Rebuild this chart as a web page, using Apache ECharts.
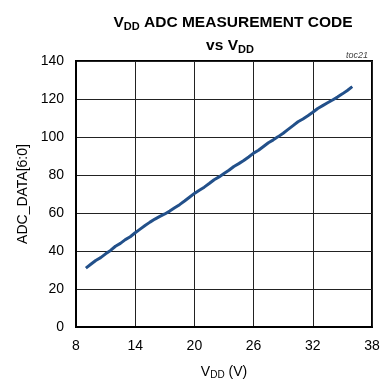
<!DOCTYPE html>
<html>
<head>
<meta charset="UTF-8">
<title>VDD ADC measurement code</title>
<script src="https://cdn.jsdelivr.net/npm/echarts@6/dist/echarts.min.js"></script>
<style>
	html, body { margin: 0; padding: 0; background: #fff; }
	#chart { width: 384px; height: 385px; }
</style>
</head>
<body>
<div id="chart"></div>
<script type="text/javascript">
	// VDD (V) and ADC code
	var vdd = [9, 9.5, 10, 10.5, 11, 11.5, 12, 12.5, 13, 13.5, 14, 14.5, 15, 15.5, 16, 16.5, 17, 17.5, 18, 18.5,
		19, 19.5, 20, 20.5, 21, 21.5, 22, 22.5, 23, 23.5, 24, 24.5, 25, 25.5, 26, 26.5, 27, 27.5, 28, 28.5,
		29, 29.5, 30, 30.5, 31, 31.5, 32, 32.5, 33, 33.5, 34, 34.5, 35, 35.5, 36];
	var code = [31, 33, 35, 36.5, 38.5, 40.3, 42.5, 44, 46, 47.5, 49.6, 51.5, 53.4, 55.2, 56.8, 58.2, 59.5, 61, 62.7, 64.4,
		66.3, 68.3, 70.3, 72, 73.6, 75.5, 77.5, 79, 80.8, 82.5, 84.5, 86, 87.6, 89.5, 91.5, 93, 95, 97, 98.5, 100.2,
		102, 104, 106, 108, 109.5, 111.2, 113, 115, 116.5, 118, 119.5, 121, 122.7, 124.5, 126.5];
	var xTicks = [8, 14, 20, 26, 32, 38];
	var yTicks = [0, 20, 40, 60, 80, 100, 120, 140];

	var font = '"Liberation Sans", Arial, sans-serif';
	var points = vdd.map(function (v, i) { return [v, code[i]]; });

	var titleRich = {
		b: { fontFamily: font, fontWeight: 'bold', fontSize: 15.5, color: '#000', lineHeight: 18 },
		bs: { fontFamily: font, fontWeight: 'bold', fontSize: 11, color: '#000', lineHeight: 18, padding: [7, 0, 0, 0] }
	};

	var chart = echarts.init(document.getElementById('chart'));
	chart.setOption({
		animation: false,
		title: [{
			text: '{b|V}{bs|DD}{b| ADC MEASUREMENT CODE}',
			left: 228,
			top: 9,
			textAlign: 'center',
			textStyle: { rich: titleRich }
		}, {
			text: '{b|vs V}{bs|DD}',
			left: 225,
			top: 32,
			textAlign: 'center',
			textStyle: { rich: titleRich }
		}, {
			text: 'toc21',
			right: 11,
			top: 46,
			textStyle: { fontFamily: font, fontSize: 9, fontWeight: 'normal', fontStyle: 'italic', color: '#444' }
		}],
		grid: {
			left: 76,
			right: 12,
			top: 61,
			bottom: 52,
			show: true,
			borderColor: '#000',
			borderWidth: 2
		},
		xAxis: {
			type: 'value',
			min: 8,
			max: 38,
			interval: 6,
			name: '{n|V}{s|DD}{n| (V)}',
			nameLocation: 'middle',
			nameGap: 36,
			nameTextStyle: {
				rich: {
					n: { fontFamily: font, fontSize: 14, color: '#000', lineHeight: 18 },
					s: { fontFamily: font, fontSize: 10, color: '#000', lineHeight: 18, padding: [6, 0, 0, 0] }
				}
			},
			axisLine: { lineStyle: { color: '#000', width: 2 } },
			axisTick: { show: false },
			axisLabel: {
				margin: 12,
				fontFamily: font,
				fontSize: 14,
				color: '#000',
				formatter: function (v) { return xTicks.indexOf(v) >= 0 ? v : ''; }
			},
			splitLine: { lineStyle: { color: '#222', width: 1 } }
		},
		yAxis: {
			type: 'value',
			min: 0,
			max: 140,
			interval: 20,
			name: 'ADC_DATA[6:0]',
			nameLocation: 'middle',
			nameRotate: 90,
			nameGap: 44,
			nameTextStyle: { fontFamily: font, fontSize: 14, color: '#000' },
			axisLine: { show: true, lineStyle: { color: '#000', width: 2 } },
			axisTick: { show: false },
			axisLabel: {
				margin: 12,
				fontFamily: font,
				fontSize: 14,
				color: '#000',
				formatter: function (v) { return yTicks.indexOf(v) >= 0 ? v : ''; }
			},
			splitLine: { lineStyle: { color: '#222', width: 1 } }
		},
		series: [{
			type: 'line',
			data: points,
			showSymbol: false,
			smooth: false,
			lineStyle: { color: '#22508a', width: 3 }
		}]
	});
</script>
</body>
</html>
